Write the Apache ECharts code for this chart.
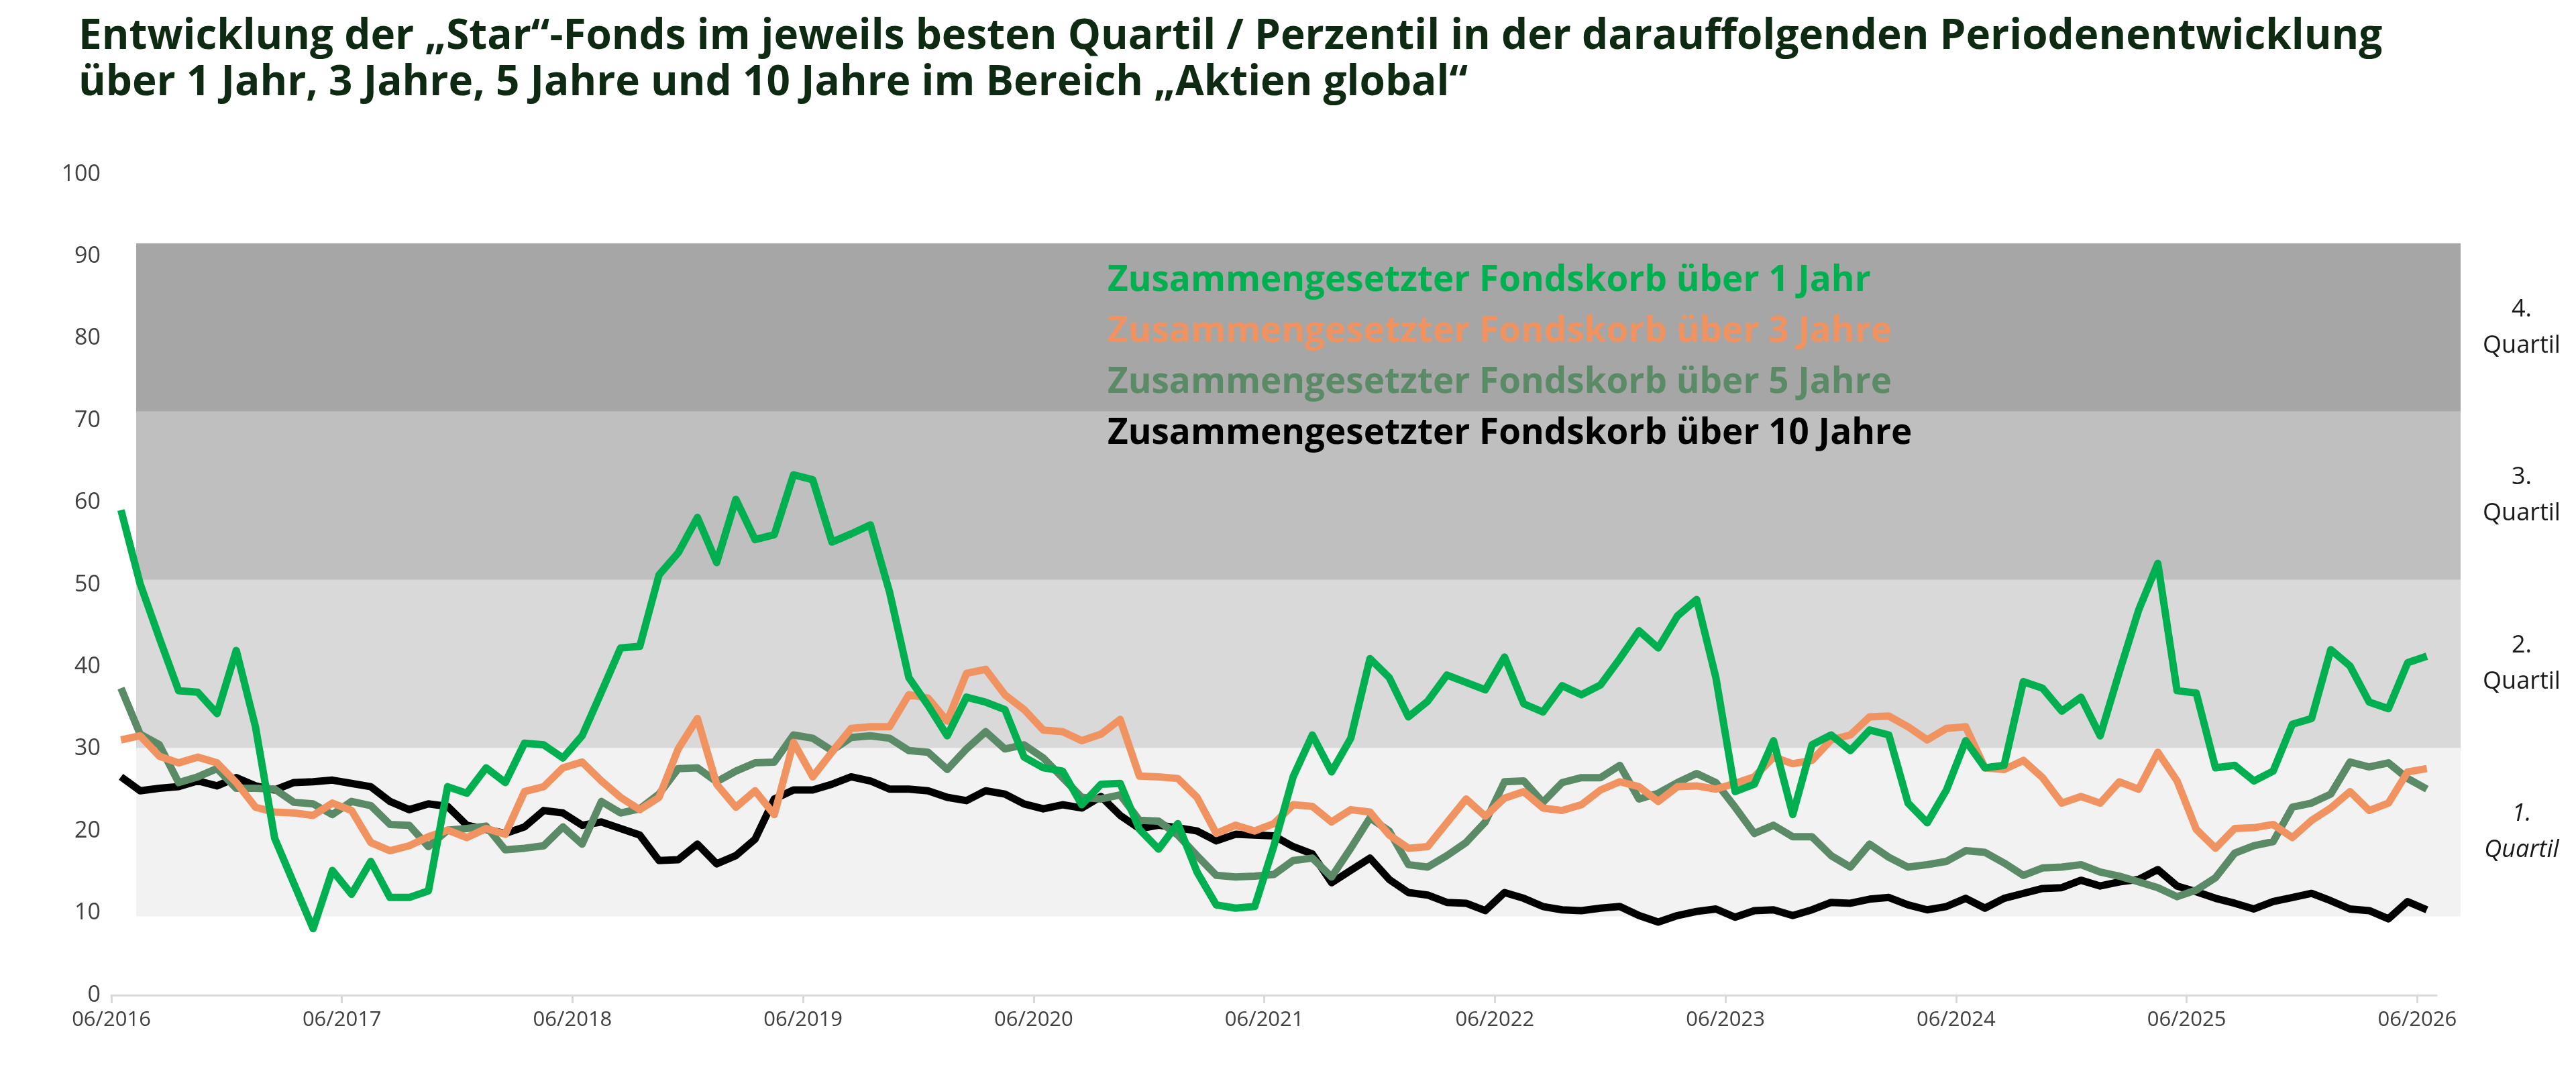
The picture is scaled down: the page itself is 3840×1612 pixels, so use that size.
<!DOCTYPE html>
<html>
<head>
<meta charset="utf-8">
<script src="https://cdn.jsdelivr.net/npm/echarts@6/dist/echarts.min.js"></script>
<style>
  html, body { margin: 0; padding: 0; background: #fff; }
  #chart { width: 3840px; height: 1612px; }
</style>
</head>
<body>
<div id="chart"></div>
<script>
// x-axis tick labels (one per year)
var tickLabels = ['06/2016','06/2017','06/2018','06/2019','06/2020','06/2021',
                  '06/2022','06/2023','06/2024','06/2025','06/2026'];

// monthly values, 06/2016 .. 06/2026
var fonds1J = [59.1,50.1,43.5,37.1,36.9,34.3,42.0,32.7,19.1,13.6,8.1,15.2,12.3,16.3,11.9,11.9,12.7,25.4,24.6,27.7,25.9,30.7,30.5,28.9,31.6,
  36.9,42.3,42.5,51.2,53.9,58.2,52.7,60.4,55.5,56.1,63.4,62.8,55.2,56.2,57.3,49.1,38.7,35.3,31.6,36.3,35.7,34.8,29.0,27.7,
  27.3,23.2,25.7,25.8,20.2,17.8,20.9,15.0,11.0,10.6,10.8,18.2,26.6,31.7,27.2,31.3,41.0,38.7,33.9,35.8,39.0,38.1,37.2,41.2,
  35.5,34.5,37.7,36.6,37.8,41.0,44.4,42.3,46.2,48.2,38.7,24.8,25.7,31.0,22.0,30.5,31.7,29.8,32.3,31.7,23.4,21.0,25.0,31.0,
  27.7,28.0,38.2,37.4,34.6,36.3,31.6,39.4,46.9,52.6,37.1,36.8,27.7,28.0,26.1,27.3,33.0,33.7,42.1,40.1,35.7,34.9,40.5,41.3];

var fonds3J = [31.1,31.6,29.1,28.3,29.0,28.3,25.9,22.9,22.3,22.2,21.9,23.4,22.5,18.6,17.6,18.2,19.3,20.1,19.2,20.3,19.6,24.8,25.4,27.7,28.4,
  26.1,24.1,22.6,24.1,30.0,33.7,25.7,22.9,24.9,22.0,30.8,26.6,29.6,32.5,32.7,32.7,36.6,36.2,33.4,39.2,39.7,36.6,34.8,32.3,
  32.1,31.0,31.8,33.6,26.7,26.6,26.4,24.1,19.7,20.7,20.0,20.9,23.2,23.0,21.1,22.6,22.3,19.5,17.9,18.1,21.0,23.9,21.8,24.0,
  24.8,22.8,22.5,23.2,25.0,26.0,25.4,23.6,25.4,25.5,25.1,25.8,26.6,29.0,28.2,28.6,31.1,31.7,33.9,34.0,32.7,31.1,32.5,32.7,
  27.7,27.5,28.6,26.5,23.4,24.2,23.4,26.0,25.1,29.6,26.1,20.2,17.9,20.3,20.4,20.8,19.2,21.3,22.8,24.8,22.5,23.4,27.2,27.6];

var fonds5J = [37.4,31.8,30.5,25.9,26.6,27.6,25.2,25.2,25.1,23.5,23.3,22.0,23.6,23.1,20.8,20.7,18.1,20.1,20.3,20.6,17.7,17.9,18.2,20.5,18.4,
  23.6,22.2,22.7,24.5,27.6,27.7,26.0,27.3,28.3,28.4,31.7,31.3,29.8,31.4,31.6,31.3,29.8,29.6,27.5,30.0,32.1,30.0,30.5,28.9,
  26.5,24.1,23.9,24.4,21.3,21.2,19.5,17.0,14.6,14.4,14.5,14.7,16.4,16.7,14.4,17.9,21.6,20.0,15.9,15.6,17.0,18.6,21.1,26.0,
  26.1,23.5,25.9,26.5,26.5,28.0,23.9,24.6,25.9,27.0,25.9,22.9,19.7,20.7,19.3,19.3,17.0,15.6,18.4,16.8,15.6,15.9,16.3,17.6,
  17.4,16.1,14.6,15.5,15.6,15.9,15.0,14.5,13.8,13.1,12.0,12.8,14.3,17.3,18.2,18.7,22.9,23.4,24.5,28.4,27.8,28.3,26.4,25.1];

var fonds10J = [26.6,24.9,25.2,25.4,26.1,25.5,26.5,25.5,25.0,25.9,26.0,26.2,25.8,25.4,23.6,22.6,23.3,23.0,20.7,20.2,19.7,20.5,22.5,22.2,20.7,
  21.1,20.3,19.5,16.4,16.5,18.4,16.0,17.0,19.0,23.9,25.0,25.0,25.7,26.6,26.1,25.1,25.1,24.9,24.1,23.7,24.9,24.5,23.3,22.7,
  23.2,22.8,24.2,21.9,20.3,20.7,20.4,20.0,18.8,19.6,19.5,19.4,18.1,17.2,13.7,15.2,16.7,14.1,12.5,12.2,11.3,11.2,10.3,12.5,
  11.8,10.8,10.4,10.3,10.6,10.8,9.7,8.9,9.7,10.2,10.5,9.5,10.3,10.4,9.7,10.4,11.3,11.2,11.7,11.9,11.0,10.4,10.8,11.8,
  10.6,11.8,12.4,13.0,13.1,14.0,13.3,13.8,14.1,15.3,13.3,12.6,11.8,11.2,10.5,11.4,11.9,12.4,11.5,10.5,10.3,9.3,11.4,10.4];

// quartile band limits and labels
var bandEdges = [9.6, 30.1, 50.6, 71.1, 91.6];
var bandNames = ['1.', '2.', '3.', '4.'];
var bandColors = ['#f2f2f2', '#d9d9d9', '#bfbfbf', '#a6a6a6'];

var seriesNames = ['Zusammengesetzter Fondskorb über 1 Jahr',
                   'Zusammengesetzter Fondskorb über 3 Jahre',
                   'Zusammengesetzter Fondskorb über 5 Jahre',
                   'Zusammengesetzter Fondskorb über 10 Jahre'];
var seriesColors = ['#00b050', '#f09360', '#5b8a67', '#000000'];

function toPoints(arr) {
  return arr.map(function (v, i) { return [i + 0.5, v]; });
}

var bandData = [];
for (var b = 0; b < bandNames.length; b++) {
  bandData.push([
    {
      yAxis: bandEdges[b],
      itemStyle: { color: bandColors[b] },
      label: {
        show: true,
        position: 'right',
        distance: 0,
        formatter: '{a|' + bandNames[b] + '}\n{a|Quartil}',
        rich: {
          a: {
            width: 182, align: 'center',
            fontFamily: 'Open Sans', fontSize: 36, lineHeight: 54,
            color: '#1a1a1a', fontStyle: b === 0 ? 'italic' : 'normal'
          }
        }
      }
    },
    { yAxis: bandEdges[b + 1] }
  ]);
}

var lineSeries = [3, 2, 1, 0].map(function (k) {
  var src = [fonds1J, fonds3J, fonds5J, fonds10J][k];
  return {
    name: seriesNames[k],
    type: 'line',
    xAxisIndex: 0,
    yAxisIndex: 0,
    data: toPoints(src),
    showSymbol: false,
    symbol: 'none',
    color: seriesColors[k],
    lineStyle: { width: 11, color: seriesColors[k], join: 'round' },
    z: 10 + (3 - k),
    animation: false
  };
});

var chart = echarts.init(document.getElementById('chart'));
var option = {
  backgroundColor: '#fff',
  animation: false,
  textStyle: { fontFamily: 'Open Sans' },
  title: {
    text: 'Entwicklung der „Star“-Fonds im jeweils besten Quartil / Perzentil in der darauffolgenden Periodenentwicklung\n' +
          'über 1 Jahr, 3 Jahre, 5 Jahre und 10 Jahre im Bereich „Aktien global“',
    left: 112,
    top: 16,
    textStyle: {
      fontFamily: 'Open Sans', fontWeight: 'bold', fontSize: 62,
      lineHeight: 69, color: '#0e2a12'
    }
  },
  legend: {
    orient: 'vertical',
    left: 1641,
    top: 382,
    icon: 'none',
    itemWidth: 0,
    itemHeight: 10,
    itemGap: 12,
    selectedMode: false,
    textStyle: { fontFamily: 'Open Sans', fontWeight: 'bold', fontSize: 53, lineHeight: 64 },
    data: seriesNames.map(function (n, k) {
      return { name: n, textStyle: { color: seriesColors[k] } };
    })
  },
  grid: [
    { left: 166, right: 208, top: 260, bottom: 128, containLabel: false },
    { left: 203, right: 172, top: 260, bottom: 128, containLabel: false }
  ],
  xAxis: [
    {
      type: 'value', gridIndex: 0, min: 0, max: 121,
      splitLine: { show: false },
      axisLine: { show: true, lineStyle: { color: '#d9d9d9', width: 3 } },
      axisTick: {
        show: true, length: 12, lineStyle: { color: '#d9d9d9', width: 3 },
        customValues: tickLabels.map(function (t, k) { return k * 12; })
      },
      axisLabel: {
        fontFamily: 'Open Sans', fontSize: 31, color: '#404040', margin: 22,
        customValues: tickLabels.map(function (t, k) { return k * 12; }),
        formatter: function (v) { return tickLabels[Math.round(v / 12)]; }
      }
    },
    { type: 'value', gridIndex: 1, min: 0, max: 1, show: false }
  ],
  yAxis: [
    {
      type: 'value', gridIndex: 0, min: 0, max: 100, interval: 10,
      splitLine: { show: false },
      axisLine: { show: false },
      axisTick: { show: false },
      axisLabel: { fontFamily: 'Open Sans', fontSize: 34, color: '#404040', margin: 16 }
    },
    { type: 'value', gridIndex: 1, min: 0, max: 100, show: false }
  ],
  series: [
    {
      name: 'Quartile',
      type: 'line',
      xAxisIndex: 1,
      yAxisIndex: 1,
      data: [],
      silent: true,
      z: 1,
      markArea: { silent: true, data: bandData }
    }
  ].concat(lineSeries)
};
chart.setOption(option);
</script>
</body>
</html>
